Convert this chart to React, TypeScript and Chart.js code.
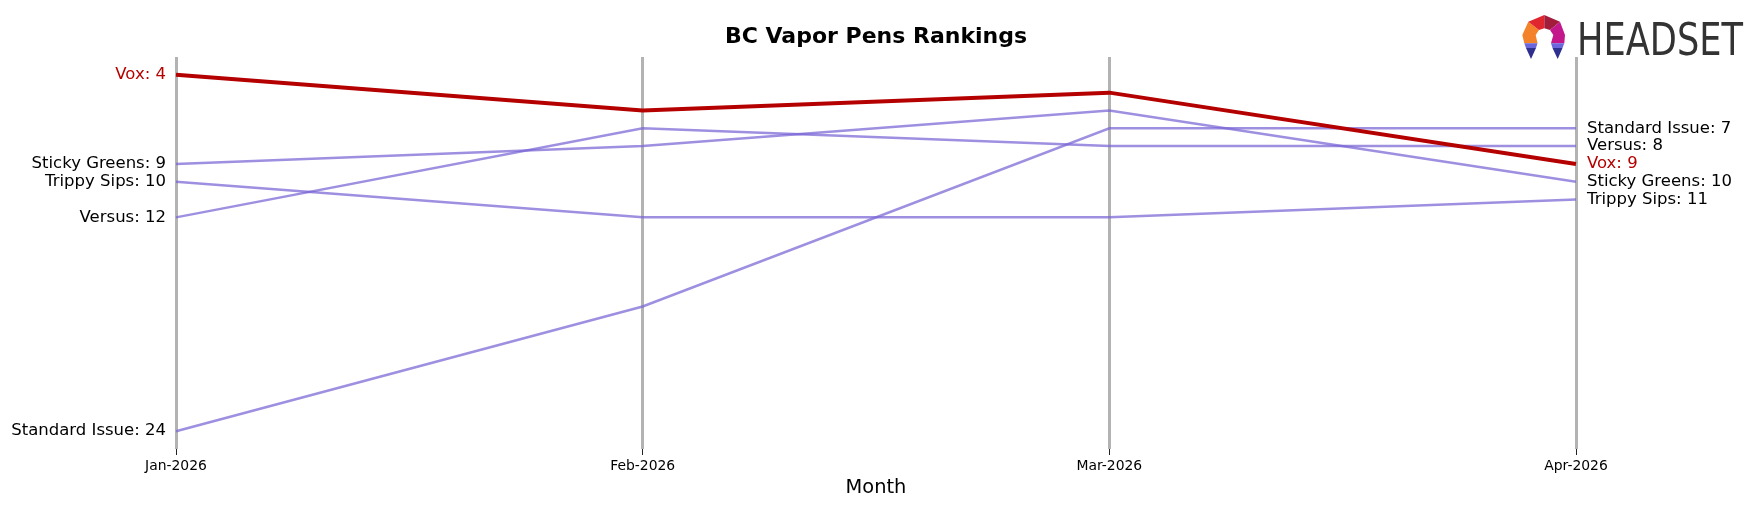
import React, { useEffect, useRef } from "react";
import { Chart, registerables } from "chart.js";

Chart.register(...registerables);

const months = ["Jan-2026", "Feb-2026", "Mar-2026", "Apr-2026"];
const brandNames = ["Vox", "Standard Issue", "Versus", "Sticky Greens", "Trippy Sips"];
const voxRanks = [4, 6, 5, 9];
const standardIssueRanks = [24, 17, 7, 7];
const versusRanks = [12, 7, 8, 8];
const stickyGreensRanks = [9, 8, 6, 10];
const trippySipsRanks = [10, 12, 12, 11];
const highlightBrand = "Vox";

const chartTitle = "BC Vapor Pens Rankings";
const xAxisTitle = "Month";

const RED = "#b50000";
const PURPLE = "rgba(120,100,212,0.72)";
const FONT = '"DejaVu Sans", "Noto Sans", sans-serif';

const seriesValues = [voxRanks, standardIssueRanks, versusRanks, stickyGreensRanks, trippySipsRanks];

const endLabels = {
  id: "endLabels",
  afterDatasetsDraw(chart: any) {
    const ctx = chart.ctx;
    const xs = chart.scales.x;
    const ys = chart.scales.y;
    const x0 = xs.getPixelForValue(0);
    const x1 = xs.getPixelForValue(months.length - 1);
    ctx.save();
    ctx.font = `16.5px ${FONT}`;
    ctx.textBaseline = "middle";
    brandNames.forEach((name, i) => {
      const vals = seriesValues[i];
      const first = vals[0];
      const last = vals[vals.length - 1];
      ctx.fillStyle = name === highlightBrand ? RED : "#000";
      ctx.textAlign = "right";
      ctx.fillText(`${name}: ${first}`, x0 - 10, ys.getPixelForValue(first));
      ctx.textAlign = "left";
      ctx.fillText(`${name}: ${last}`, x1 + 11, ys.getPixelForValue(last));
    });
    ctx.restore();
  },
  afterDraw(chart: any) {
    const ctx = chart.ctx;
    const area = chart.chartArea;
    ctx.save();
    // title
    ctx.font = `bold 22px ${FONT}`;
    ctx.fillStyle = "#000";
    ctx.textAlign = "center";
    ctx.textBaseline = "middle";
    ctx.fillText(chartTitle, (area.left + area.right) / 2, 37);

    // logo icon
    const ox = 1521;
    const oy = 15;
    const polys: [string, number[][]][] = [
      ["#f4822a", [[7.3, 6.7], [18, 15], [14.7, 20], [16.5, 28.3], [3.3, 28.3], [1.3, 20]]],
      ["#e0262e", [[7.3, 6.7], [23.3, 0], [23.3, 13.3], [18, 15]]],
      ["#a21d3c", [[23.3, 0], [39, 6.7], [29, 15], [23.3, 13.3]]],
      ["#c4178c", [[39, 6.7], [44, 20], [43.3, 28.3], [30, 28.3], [32.3, 20], [29, 15]]],
      ["#6b66dc", [[3.3, 28.3], [16.5, 28.3], [15, 33], [5, 33]]],
      ["#2e2f8f", [[5, 33], [15, 33], [10, 44]]],
      ["#6b66dc", [[30, 28.3], [43.3, 28.3], [41.5, 33], [31.5, 33]]],
      ["#2e2f8f", [[31.5, 33], [41.5, 33], [36.7, 44]]],
    ];
    polys.forEach(([c, pts]) => {
      ctx.beginPath();
      pts.forEach(([px, py], k) => {
        if (k === 0) ctx.moveTo(ox + px, oy + py);
        else ctx.lineTo(ox + px, oy + py);
      });
      ctx.closePath();
      ctx.fillStyle = c;
      ctx.fill();
    });

    // logo text
    ctx.font = `45px ${FONT}`;
    ctx.textAlign = "left";
    ctx.textBaseline = "alphabetic";
    const w = ctx.measureText("HEADSET").width;
    const targetW = 166;
    ctx.translate(1577, 55);
    ctx.scale(targetW / w, 1);
    ctx.fillStyle = "#333333";
    ctx.fillText("HEADSET", 0, 0);
    ctx.restore();
  },
};

export default function App() {
  const ref = useRef<HTMLCanvasElement | null>(null);
  useEffect(() => {
    if (!ref.current) return;
    const datasets = brandNames.map((name, i) => ({
      label: name,
      data: seriesValues[i],
      borderColor: name === highlightBrand ? RED : PURPLE,
      backgroundColor: name === highlightBrand ? RED : PURPLE,
      borderWidth: name === highlightBrand ? 4 : 2.5,
      pointRadius: 0,
      tension: 0,
      fill: false,
      order: name === highlightBrand ? 0 : 1,
    }));
    const chart = new Chart(ref.current, {
      type: "line",
      data: { labels: months, datasets },
      options: {
        animation: false,
        responsive: false,
        maintainAspectRatio: false,
        layout: { padding: { left: 176, right: 182, top: 57, bottom: 0 } },
        plugins: {
          legend: { display: false },
          tooltip: { enabled: false },
          title: { display: false },
        },
        scales: {
          x: {
            type: "category",
            offset: false,
            afterFit: (s: any) => {
              s.height = 58;
            },
            border: { display: false },
            grid: {
              display: true,
              offset: false,
              color: "#b3b3b3",
              lineWidth: 3,
              drawTicks: true,
              tickLength: 6,
              tickColor: "#222",
              tickWidth: 1,
            },
            ticks: {
              color: "#000",
              font: { family: FONT, size: 13.9 },
              padding: 3,
              maxRotation: 0,
              autoSkip: false,
            },
            title: {
              display: true,
              text: xAxisTitle,
              color: "#000",
              font: { family: FONT, size: 19.4 },
              padding: { top: 0, bottom: 7.5 },
            },
          },
          y: {
            type: "linear",
            reverse: true,
            min: 3,
            max: 25,
            display: false,
          },
        },
      },
      plugins: [endLabels],
    });
    return () => chart.destroy();
  }, []);
  return (
    <div style={{ position: "absolute", left: 0, top: 0, width: 1758, height: 507, background: "#fff" }}>
      <canvas ref={ref} width={1758} height={507} style={{ display: "block", width: 1758, height: 507 }} />
    </div>
  );
}
